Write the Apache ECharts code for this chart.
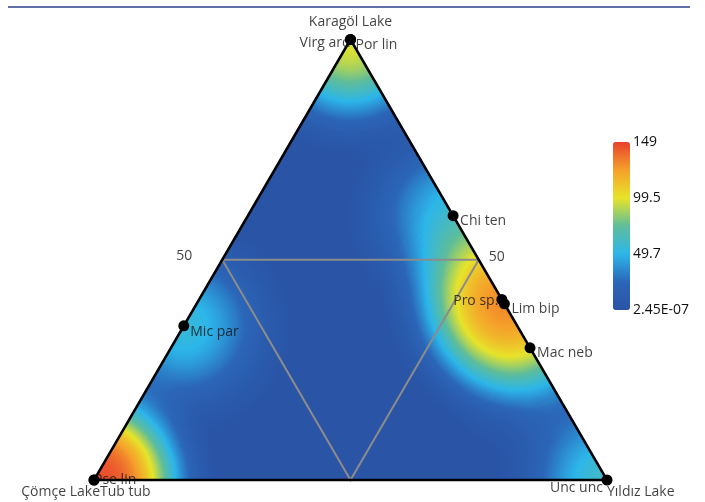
<!DOCTYPE html>
<html>
<head>
<meta charset="utf-8">
<script src="https://cdn.jsdelivr.net/npm/echarts@6/dist/echarts.min.js"></script>
<style>
html,body{margin:0;padding:0;background:#fff;}
#chart{width:705px;height:502px;}
</style>
</head>
<body>
<div id="chart"></div>
<script>
// ---- data ----
const lakes = ['Karagöl Lake', 'Çömçe Lake', 'Yıldız Lake'];          // top, bottom-left, bottom-right
const species = ['Virg ard', 'Por lin', 'Chi ten', 'Pro sp.', 'Lim bip', 'Mac neb', 'Mic par', 'Pse lin', 'Tub tub', 'Unc unc'];
const pctKaragol = [100, 100, 60, 41, 40, 30, 35, 0, 0, 0];
const pctComce   = [0, 0, 0, 0, 0, 0, 65, 100, 100, 0];
const pctYildiz  = [0, 0, 40, 59, 60, 70, 0, 0, 0, 100];
const density    = [75, 65, 60, 110, 90, 52, 62, 140, 149, 68];
const edgeTicks  = ['50', '50'];
const edgeTickPos = [[50, 50, 0], [50, 0, 50]];   // left edge, right edge midpoints
const innerLines = [[50, 50, 0], [50, 0, 50], [0, 50, 50]];
const scaleLabels = ['2.45E-07', '49.7', '99.5', '149'];
const scaleMin = 0, scaleMax = 149;

// ---- ternary scale ----
const H = 440.5 / 513;
function tern(k, c, y) { const s = k + c + y; return [(y + k / 2) / s, (k / s) * H]; }
const vertexXY = [tern(100, 0, 0), tern(0, 100, 0), tern(0, 0, 100)];

echarts.registerMap('ternary', {
  type: 'FeatureCollection',
  features: [{
    type: 'Feature', properties: { name: 'area' },
    geometry: { type: 'Polygon', coordinates: [[vertexXY[1], vertexXY[2], vertexXY[0], vertexXY[1]]] }
  }]
});

const speciesXY = species.map((s, i) => tern(pctKaragol[i], pctComce[i], pctYildiz[i]));

const FONT = { fontFamily: 'Open Sans', fontSize: 14, color: '#111' };
const labelCfg = {
  'Virg ard': { position: 'left', distance: 0, offset: [0, 4] },
  'Por lin': { position: 'right', distance: 5, offset: [0, 5.5] },
  'Chi ten': { position: 'right', distance: 7, offset: [0, 5] },
  'Pro sp.': { position: 'left', distance: 3.5, offset: [0, 2] },
  'Lim bip': { position: 'right', distance: 7, offset: [0, 5.5] },
  'Mac neb': { position: 'right', distance: 7, offset: [0, 5.5] },
  'Mic par': { position: 'right', distance: 6.5, offset: [0, 6] },
  'Pse lin': { position: 'right', distance: 0, offset: [0, 0] },
  'Tub tub': { position: 'right', distance: 6, offset: [0, 12] },
  'Unc unc': { position: 'left', distance: 4, offset: [0, 8] }
};
const lakeLabelCfg = [
  { position: 'top', distance: 10, offset: [0, 0] },
  { position: 'left', distance: -6, offset: [0, 12] },
  { position: 'right', distance: 0, offset: [0, 12] }
];
const tickLabelCfg = [
  { position: 'left', distance: 30, offset: [0, -3.5] },
  { position: 'right', distance: 10, offset: [0, -3] }
];

const chart = echarts.init(document.getElementById('chart'));
const BG = '#2a54a6';

chart.setOption({
  animation: false,
  graphic: [{ type: 'line', shape: { x1: 8, y1: 7, x2: 690, y2: 7 }, style: { stroke: '#2b3f8e', lineWidth: 1.5 }, silent: true }],
  geo: {
    map: 'ternary', roam: false, silent: true, aspectScale: 1,
    left: 94, top: 39.5, width: 513, height: 440.5,
    label: { show: false },
    itemStyle: { areaColor: BG, borderWidth: 0 },
    emphasis: { disabled: true }
  },
  visualMap: {
    type: 'continuous', min: scaleMin, max: scaleMax, calculable: false, realtime: false,
    seriesIndex: 0, left: 613, top: 142, itemWidth: 17, itemHeight: 168, padding: 0,
    text: null, showLabel: false, hoverLink: false,
    inRange: { color: [BG, '#2b66b8', '#2cb6ea', '#5fbd9a', '#e7e42a', '#f5a12a', '#e8412e'] }
  },
  grid: { left: 613, top: 142, width: 17, height: 168 },
  xAxis: { type: 'value', show: false },
  yAxis: {
    type: 'category', data: scaleLabels, boundaryGap: false, position: 'right',
    axisLine: { show: false }, axisTick: { show: false }, splitLine: { show: false },
    axisLabel: Object.assign({ margin: 3 }, FONT)
  },
  series: [
    {
      type: 'heatmap', coordinateSystem: 'geo', geoIndex: 0,
      pointSize: 62, blurSize: 62, minOpacity: 1, maxOpacity: 1, z: 2,
      data: speciesXY.map((p, i) => [p[0], p[1], density[i]])
    },
    {
      type: 'custom', coordinateSystem: 'geo', geoIndex: 0, z: 3, silent: true,
      data: [vertexXY[0]],
      renderItem: function (params, api) {
        const A = api.coord(vertexXY[0]);
        const B = api.coord(vertexXY[1]);
        const C = api.coord(vertexXY[2]);
        const TL = api.coord([0, H]);
        const TR = api.coord([1, H]);
        const inner = innerLines.map(t => api.coord(tern(t[0], t[1], t[2])));
        return {
          type: 'group',
          children: [
            { type: 'polygon', shape: { points: [[B[0] - 2, B[1] + 2], [TL[0] - 2, TL[1] - 2], [A[0], A[1] - 2]] }, style: { fill: '#fff' } },
            { type: 'polygon', shape: { points: [[C[0] + 2, C[1] + 2], [TR[0] + 2, TR[1] - 2], [A[0], A[1] - 2]] }, style: { fill: '#fff' } },
            { type: 'polygon', shape: { points: inner }, style: { fill: 'none', stroke: '#8c8c8c', lineWidth: 2 } },
            { type: 'polygon', shape: { points: [A, B, C] }, style: { fill: 'none', stroke: '#000', lineWidth: 2.5, lineJoin: 'miter' } }
          ]
        };
      }
    },
    {
      type: 'scatter', coordinateSystem: 'geo', geoIndex: 0, z: 5, symbolSize: 0, silent: true,
      data: species.map((s, i) => ({
        name: s, value: speciesXY[i],
        label: Object.assign({ show: true, formatter: s }, FONT, labelCfg[s])
      }))
    },
    {
      type: 'scatter', coordinateSystem: 'geo', geoIndex: 0, z: 6, symbolSize: 11, silent: true,
      itemStyle: { color: '#000', opacity: 1 },
      data: speciesXY.map((p, i) => ({ name: species[i], value: p }))
    },
    {
      type: 'scatter', coordinateSystem: 'geo', geoIndex: 0, z: 5, symbolSize: 0, silent: true,
      data: lakes.map((l, i) => ({
        name: l, value: vertexXY[i],
        label: Object.assign({ show: true, formatter: l }, FONT, lakeLabelCfg[i])
      }))
    },
    {
      type: 'scatter', coordinateSystem: 'geo', geoIndex: 0, z: 5, symbolSize: 0, silent: true,
      data: edgeTicks.map((t, i) => ({
        name: t + i, value: tern(edgeTickPos[i][0], edgeTickPos[i][1], edgeTickPos[i][2]),
        label: Object.assign({ show: true, formatter: t }, FONT, tickLabelCfg[i])
      }))
    }
  ]
});
</script>
</body>
</html>
